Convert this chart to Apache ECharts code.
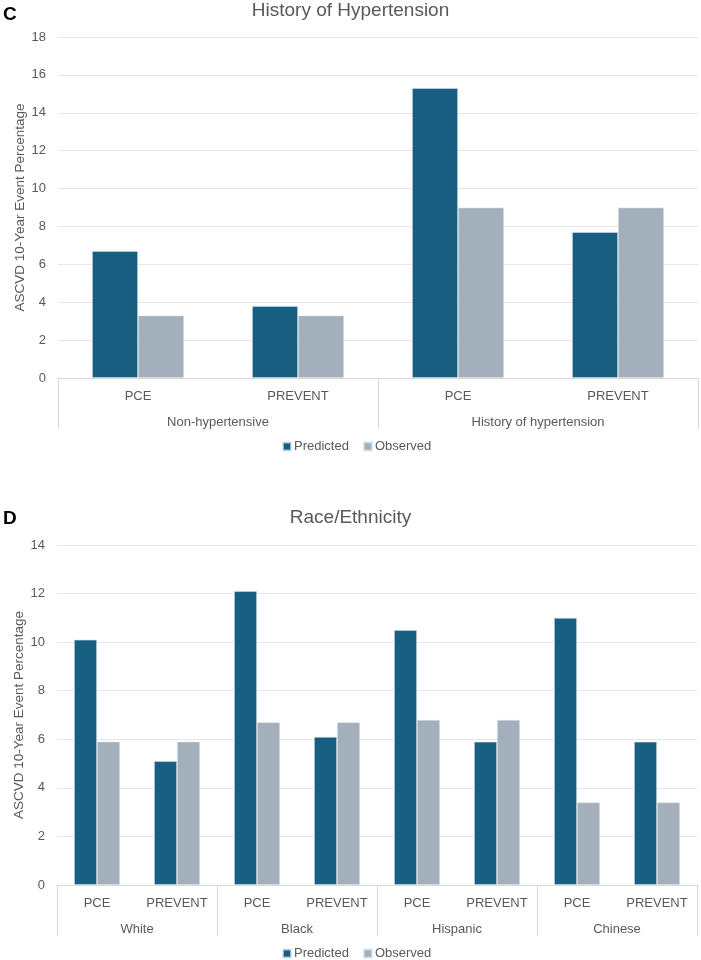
<!DOCTYPE html>
<html>
<head>
<meta charset="utf-8">
<script src="https://cdn.jsdelivr.net/npm/echarts@6/dist/echarts.min.js"></script>
<style>
html,body{margin:0;padding:0;background:#fff;}
#chart{width:701px;height:960px;}
</style>
</head>
<body>
<div id="chart"></div>
<script>
// Panel C data
const subCatsC = ['PCE', 'PREVENT', 'PCE', 'PREVENT'];
const groupsC = ['Non-hypertensive', 'History of hypertension'];
const predictedC = [6.7, 3.8, 15.3, 7.7];
const observedC = [3.3, 3.3, 9.0, 9.0];
const yMaxC = 18;

// Panel D data
const subCatsD = ['PCE', 'PREVENT', 'PCE', 'PREVENT', 'PCE', 'PREVENT', 'PCE', 'PREVENT'];
const groupsD = ['White', 'Black', 'Hispanic', 'Chinese'];
const predictedD = [10.1, 5.1, 12.1, 6.1, 10.5, 5.9, 11.0, 5.9];
const observedD = [5.9, 5.9, 6.7, 6.7, 6.8, 6.8, 3.4, 3.4];
const yMaxD = 14;

const seriesNames = ['Predicted', 'Observed'];
const yTitle = 'ASCVD 10-Year Event Percentage';

const FONT = 'Liberation Sans';
const TXT = '#595959';
const C_PRED = '#175E81';
const C_OBS = '#A3AFBA';

const chart = echarts.init(document.getElementById('chart'));

function subAxis(grid, data) {
  return {
    type: 'category', gridIndex: grid, data: data, position: 'bottom',
    axisLine: { show: true, lineStyle: { color: '#d9d9d9', width: 1 } },
    axisTick: { show: false },
    axisLabel: { interval: 0, margin: 12, fontSize: 13, color: TXT, fontFamily: FONT }
  };
}
function groupAxis(grid, data) {
  return {
    type: 'category', gridIndex: grid, data: data, position: 'bottom',
    axisLine: { show: false },
    axisTick: { show: true, length: 51, interval: 0, lineStyle: { color: '#d9d9d9', width: 1 } },
    axisLabel: { interval: 0, margin: 38, fontSize: 13, color: TXT, fontFamily: FONT }
  };
}
function valAxis(grid, max) {
  return {
    type: 'value', gridIndex: grid, min: 0, max: max, interval: 2,
    name: yTitle, nameLocation: 'middle', nameGap: 31, nameMoveOverlap: false,
    nameTextStyle: { fontSize: 13.5, color: TXT, fontFamily: FONT },
    axisLine: { show: false }, axisTick: { show: false },
    axisLabel: { margin: 12, fontSize: 13, color: TXT, fontFamily: FONT },
    splitLine: { lineStyle: { color: '#e6e6e6', width: 1 } }
  };
}
function bar(name, xi, yi, data, color) {
  return {
    name: name, type: 'bar', xAxisIndex: xi, yAxisIndex: yi, data: data,
    barGap: '0%', barCategoryGap: '42.5%',
    itemStyle: { color: color, borderColor: 'rgba(210,225,235,0.7)', borderWidth: 0.8 }
  };
}
function legend(top) {
  return {
    data: seriesNames, top: top, left: 282, padding: 0, icon: 'rect',
    itemWidth: 8, itemHeight: 8, itemGap: 14,
    textStyle: { fontSize: 13, color: TXT, fontFamily: FONT, padding: [0, 0, 0, -2] }
  };
}

const option = {
  animation: false,
  backgroundColor: '#fff',
  title: [
    { text: 'C', left: 3, top: 5, padding: 0, textStyle: { fontSize: 19, fontWeight: 'bold', color: '#000', fontFamily: 'Liberation Sans' } },
    { text: 'History of Hypertension', left: 'center', top: 1, padding: 0, textStyle: { fontSize: 19, fontWeight: 'normal', color: TXT, fontFamily: FONT } },
    { text: 'D', left: 3, top: 509, padding: 0, textStyle: { fontSize: 19, fontWeight: 'bold', color: '#000', fontFamily: 'Liberation Sans' } },
    { text: 'Race/Ethnicity', left: 'center', top: 508, padding: 0, textStyle: { fontSize: 19, fontWeight: 'normal', color: TXT, fontFamily: FONT } }
  ],
  legend: [legend(440), legend(947)],
  grid: [
    { left: 58, right: 3, top: 37, bottom: 582 },
    { left: 57, right: 4, top: 545, bottom: 75 }
  ],
  xAxis: [subAxis(0, subCatsC), groupAxis(0, groupsC), subAxis(1, subCatsD), groupAxis(1, groupsD)],
  yAxis: [valAxis(0, yMaxC), valAxis(1, yMaxD)],
  series: [
    bar(seriesNames[0], 0, 0, predictedC, C_PRED),
    bar(seriesNames[1], 0, 0, observedC, C_OBS),
    bar(seriesNames[0], 2, 1, predictedD, C_PRED),
    bar(seriesNames[1], 2, 1, observedD, C_OBS)
  ]
};
chart.setOption(option);
</script>
</body>
</html>
